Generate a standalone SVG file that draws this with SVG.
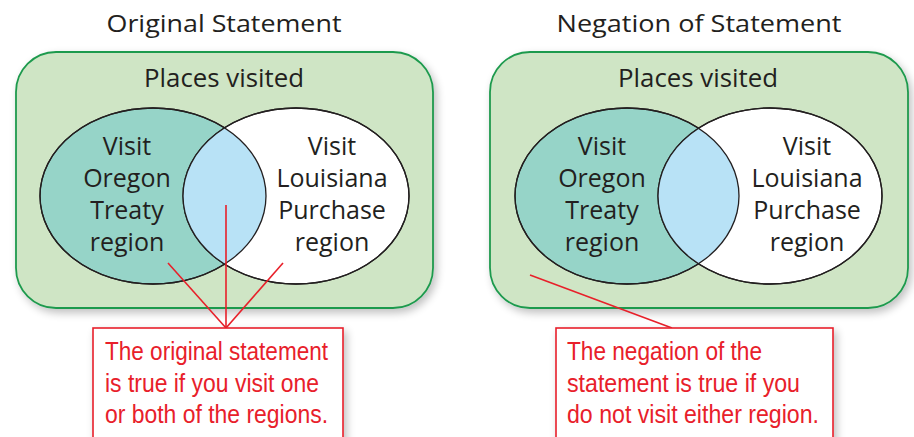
<svg xmlns="http://www.w3.org/2000/svg" width="914" height="437" viewBox="0 0 914 437">
<defs>
<style>
.title{font-family:"Open Sans","Liberation Sans",sans-serif;font-size:24px;fill:#231f20;text-anchor:middle}
.lbl{font-family:"Open Sans","Liberation Sans",sans-serif;font-size:25px;fill:#231f20;text-anchor:middle}
.hdr{font-family:"Open Sans","Liberation Sans",sans-serif;font-size:25px;fill:#231f20;text-anchor:middle}
.note{font-family:"Liberation Sans","Open Sans",sans-serif;font-size:25px;fill:#e8202a}
.panel{fill:#cfe5c5;stroke:#1f9a4e;stroke-width:1.8}
.ellA{fill:#96d4c8;stroke:#231f20;stroke-width:1.3}
.ellB{fill:#ffffff;stroke:#231f20;stroke-width:1.3}
.mid{fill:#b8e2f6}
.lead{stroke:#e8202a;stroke-width:1.6;fill:none}
.box{fill:#ffffff;stroke:#e8202a;stroke-width:1.6}
</style>
<filter id="sh" x="-10%" y="-10%" width="125%" height="130%">
<feGaussianBlur in="SourceAlpha" stdDeviation="4"/>
<feOffset dx="3" dy="4" result="b"/>
<feComponentTransfer><feFuncA type="linear" slope="0.25"/></feComponentTransfer>
<feMerge><feMergeNode/><feMergeNode in="SourceGraphic"/></feMerge>
</filter>
<clipPath id="clipL"><ellipse cx="153" cy="196" rx="113" ry="88"/></clipPath>
<clipPath id="clipR"><ellipse cx="627" cy="196" rx="112" ry="88"/></clipPath>
</defs>
<rect width="914" height="437" fill="#ffffff"/>

<text class="title" x="224" y="32" textLength="235" lengthAdjust="spacingAndGlyphs">Original Statement</text>
<text class="title" x="699" y="32" textLength="285" lengthAdjust="spacingAndGlyphs">Negation of Statement</text>

<g id="panel-original">
<rect class="panel" x="16" y="52" width="417" height="256" rx="40" filter="url(#sh)"/>
<text class="hdr" x="224" y="87" textLength="160" lengthAdjust="spacingAndGlyphs">Places visited</text>
</g>
<g id="oregon-original">
<ellipse class="ellA" cx="153" cy="196" rx="113" ry="88"/>
</g>
<g id="louisiana-original">
<ellipse class="ellB" cx="296" cy="196" rx="113" ry="88"/>
<ellipse class="mid" cx="296" cy="196" rx="113" ry="88" clip-path="url(#clipL)"/>
<ellipse cx="153" cy="196" rx="113" ry="88" fill="none" stroke="#231f20" stroke-width="1.3"/>
<ellipse cx="296" cy="196" rx="113" ry="88" fill="none" stroke="#231f20" stroke-width="1.3"/>
</g>
<g id="labels-original">
<text class="lbl" x="127" y="155">Visit</text>
<text class="lbl" x="127" y="187">Oregon</text>
<text class="lbl" x="127" y="219">Treaty</text>
<text class="lbl" x="127" y="251">region</text>
<text class="lbl" x="332" y="155">Visit</text>
<text class="lbl" x="332" y="187">Louisiana</text>
<text class="lbl" x="332" y="219">Purchase</text>
<text class="lbl" x="332" y="251">region</text>
</g>

<g id="panel-negation">
<rect class="panel" x="490" y="52" width="418" height="256" rx="40" filter="url(#sh)"/>
<text class="hdr" x="698" y="87" textLength="160" lengthAdjust="spacingAndGlyphs">Places visited</text>
</g>
<g id="oregon-negation">
<ellipse class="ellA" cx="627" cy="196" rx="112" ry="88"/>
</g>
<g id="louisiana-negation">
<ellipse class="ellB" cx="770" cy="196" rx="112" ry="88"/>
<ellipse class="mid" cx="770" cy="196" rx="112" ry="88" clip-path="url(#clipR)"/>
<ellipse cx="627" cy="196" rx="112" ry="88" fill="none" stroke="#231f20" stroke-width="1.3"/>
<ellipse cx="770" cy="196" rx="112" ry="88" fill="none" stroke="#231f20" stroke-width="1.3"/>
</g>
<g id="labels-negation">
<text class="lbl" x="602" y="155">Visit</text>
<text class="lbl" x="602" y="187">Oregon</text>
<text class="lbl" x="602" y="219">Treaty</text>
<text class="lbl" x="602" y="251">region</text>
<text class="lbl" x="807" y="155">Visit</text>
<text class="lbl" x="807" y="187">Louisiana</text>
<text class="lbl" x="807" y="219">Purchase</text>
<text class="lbl" x="807" y="251">region</text>
</g>

<g id="connectors">
<line class="lead" x1="168" y1="263" x2="226" y2="328"/>
<line class="lead" x1="226" y1="205" x2="226" y2="328"/>
<line class="lead" x1="283" y1="263" x2="226" y2="328"/>
<line class="lead" x1="530" y1="275" x2="672" y2="328"/>
</g>

<g id="note-original">
<rect class="box" x="93" y="328" width="250" height="115" filter="url(#sh)"/>
<text class="note" x="105" y="360" textLength="223" lengthAdjust="spacingAndGlyphs">The original statement</text>
<text class="note" x="105" y="392" textLength="214" lengthAdjust="spacingAndGlyphs">is true if you visit one</text>
<text class="note" x="105" y="423" textLength="223" lengthAdjust="spacingAndGlyphs">or both of the regions.</text>
</g>
<g id="note-negation">
<rect class="box" x="556" y="328" width="277" height="115" filter="url(#sh)"/>
<text class="note" x="567" y="360" textLength="195" lengthAdjust="spacingAndGlyphs">The negation of the</text>
<text class="note" x="567" y="392" textLength="233" lengthAdjust="spacingAndGlyphs">statement is true if you</text>
<text class="note" x="567" y="423" textLength="252" lengthAdjust="spacingAndGlyphs">do not visit either region.</text>
</g>
</svg>
